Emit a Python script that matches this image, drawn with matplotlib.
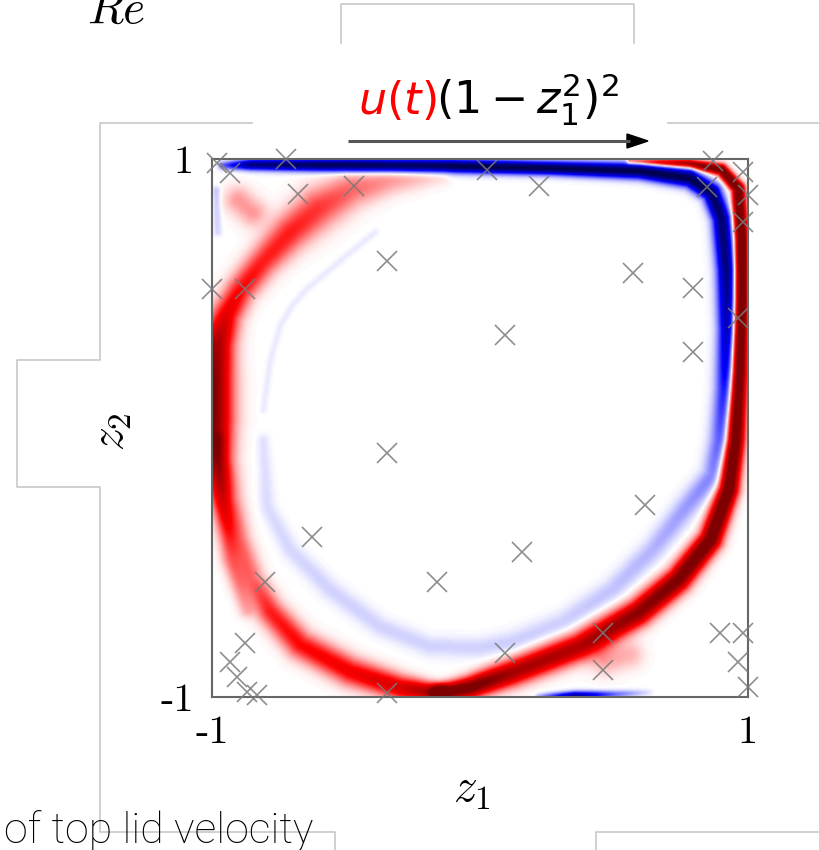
import numpy as np
import matplotlib.pyplot as plt

plt.rcParams['mathtext.fontset'] = 'cm'

# vorticity bands: rows of (z1, z2, value, half-width)
lid_band = np.array([
    [-0.963, 0.978, -0.30, 0.015],
    [-0.858, 0.981, -0.85, 0.020],
    [-0.485, 0.979, -1.00, 0.024],
    [-0.112, 0.976, -1.00, 0.024],
    [0.261, 0.968, -1.00, 0.024],
    [0.597, 0.957, -1.00, 0.028],
    [0.784, 0.930, -1.00, 0.032],
    [0.866, 0.877, -0.95, 0.034],
    [0.903, 0.781, -0.90, 0.034],
    [0.922, 0.587, -0.85, 0.036],
    [0.926, 0.364, -0.70, 0.036],
    [0.918, 0.141, -0.50, 0.038],
    [0.900, -0.045, -0.35, 0.040],
    [0.870, -0.175, -0.25, 0.040],
    [0.772, -0.294, -0.20, 0.041],
    [0.646, -0.454, -0.15, 0.041],
    [0.496, -0.602, -0.12, 0.041],
    [0.310, -0.725, -0.10, 0.041],
    [0.123, -0.799, -0.10, 0.041],
    [0.000, -0.818, -0.09, 0.037],
    [-0.187, -0.814, -0.09, 0.037],
    [-0.373, -0.740, -0.09, 0.037],
    [-0.560, -0.602, -0.09, 0.037],
    [-0.709, -0.454, -0.08, 0.034],
    [-0.795, -0.294, -0.07, 0.030],
    [-0.810, -0.045, -0.06, 0.022],
])
faint_trail = np.array([
    [-0.810, 0.067, -0.04, 0.013],
    [-0.784, 0.253, -0.04, 0.013],
    [-0.746, 0.383, -0.04, 0.013],
    [-0.701, 0.457, -0.04, 0.013],
    [-0.653, 0.513, -0.04, 0.013],
    [-0.578, 0.576, -0.04, 0.013],
    [-0.485, 0.654, -0.04, 0.013],
    [-0.392, 0.729, -0.04, 0.013],
])
wall_band = np.array([
    [0.560, 0.993, 0.40, 0.011],
    [0.784, 0.985, 0.90, 0.015],
    [0.903, 0.962, 1.20, 0.020],
    [0.966, 0.892, 1.30, 0.022],
    [0.978, 0.699, 1.30, 0.024],
    [0.978, 0.476, 1.30, 0.026],
    [0.970, 0.216, 1.30, 0.028],
    [0.955, -0.045, 1.25, 0.032],
    [0.930, -0.230, 1.20, 0.035],
    [0.862, -0.416, 1.15, 0.040],
    [0.742, -0.565, 1.05, 0.044],
    [0.593, -0.688, 0.95, 0.047],
    [0.373, -0.814, 0.80, 0.050],
    [0.123, -0.911, 0.85, 0.047],
    [-0.037, -0.967, 1.10, 0.038],
    [-0.149, -0.989, 1.15, 0.030],
])
left_band = np.array([
    [-0.149, -0.989, 0.90, 0.030],
    [-0.299, -0.967, 0.65, 0.045],
    [-0.485, -0.907, 0.55, 0.052],
    [-0.672, -0.807, 0.50, 0.052],
    [-0.784, -0.684, 0.45, 0.049],
    [-0.851, -0.565, 0.30, 0.045],
    [-0.903, -0.416, 0.30, 0.045],
    [-0.948, -0.268, 0.40, 0.052],
    [-0.985, -0.119, 0.70, 0.060],
    [-1.000, 0.030, 1.00, 0.070],
    [-1.000, 0.178, 1.00, 0.070],
    [-0.985, 0.309, 0.85, 0.062],
    [-0.948, 0.420, 0.60, 0.054],
    [-0.896, 0.513, 0.50, 0.052],
    [-0.813, 0.617, 0.45, 0.056],
    [-0.709, 0.729, 0.45, 0.067],
    [-0.604, 0.818, 0.40, 0.075],
    [-0.485, 0.885, 0.30, 0.067],
    [-0.336, 0.922, 0.20, 0.052],
    [-0.149, 0.941, 0.08, 0.037],
])
left_streak = np.array([
    [-0.985, -0.045, 0.25, 0.030],
    [-0.970, -0.268, 0.30, 0.034],
    [-0.933, -0.491, 0.25, 0.034],
    [-0.873, -0.677, 0.15, 0.030],
])
corner_blob = np.array([
    [-0.903, 0.848, 0.20, 0.052],
    [-0.851, 0.803, 0.20, 0.052],
])
bottom_blob = np.array([
    [0.470, -0.862, 0.18, 0.056],
    [0.560, -0.845, 0.15, 0.050],
])
bottom_streak = np.array([
    [0.220, -1.000, -0.15, 0.012],
    [0.354, -0.996, -0.75, 0.015],
    [0.504, -0.992, -0.30, 0.014],
    [0.634, -0.985, -0.05, 0.012],
])
wall_streak = np.array([
    [-0.985, 0.885, -0.12, 0.015],
    [-0.981, 0.729, -0.08, 0.015],
])

# sensor locations
sensor_z1 = [-0.980, -0.933, -0.724, -0.679, -0.470, -0.347, -1.000, -0.877,
             0.026, 0.220, 0.869, 0.981, 0.847, 1.000, 0.981, 0.571, 0.795,
             0.963, 0.093, 0.795, -0.347, 0.616, 0.157, -0.627, -0.802,
             -0.160, 0.459, 0.093, 0.459, 0.896, 0.981, 0.963, 1.000,
             -0.877, -0.933, -0.907, -0.869, -0.832, -0.347]
sensor_z2 = [0.985, 0.948, 1.000, 0.870, 0.900, 0.621, 0.517, 0.517,
             0.959, 0.900, 0.993, 0.952, 0.896, 0.866, 0.766, 0.576, 0.520,
             0.409, 0.346, 0.283, -0.093, -0.286, -0.461, -0.405, -0.572,
             -0.572, -0.762, -0.836, -0.900, -0.762, -0.762, -0.870, -0.963,
             -0.799, -0.870, -0.926, -0.981, -0.993, -0.985]


def band_field(band, X, Y):
    best = np.zeros_like(X)
    for (x0, y0, v0, w0), (x1, y1, v1, w1) in zip(band[:-1], band[1:]):
        dx, dy = x1 - x0, y1 - y0
        t = np.clip(((X - x0) * dx + (Y - y0) * dy) / (dx * dx + dy * dy), 0, 1)
        d2 = (X - x0 - t * dx) ** 2 + (Y - y0 - t * dy) ** 2
        w = w0 + t * (w1 - w0)
        g = (v0 + t * (v1 - v0)) * np.exp(-d2 / w ** 2)
        best = np.where(np.abs(g) > np.abs(best), g, best)
    return best


z = np.linspace(-1, 1, 500)
X, Y = np.meshgrid(z, z)
bands = [lid_band, faint_trail, wall_band, left_band, left_streak,
         corner_blob, bottom_blob, bottom_streak, wall_streak]
field = sum(band_field(b, X, Y) for b in bands)

W, H = 819, 850
fig = plt.figure(figsize=(W / 100, H / 100), dpi=100)

# pixel-space layer for the surrounding annotations
ov = fig.add_axes([0, 0, 1, 1])
ov.set_xlim(0, W)
ov.set_ylim(H, 0)
ov.axis('off')

grey = '#c4c4c4'
ov.plot([341, 341, 634, 634], [43, 4, 4, 43], color=grey, lw=1.1)
ov.plot([252, 100, 100, 17, 17, 100, 100, 335, 335],
        [123, 123, 360, 360, 487, 487, 832, 832, 850], color=grey, lw=1.1)
ov.plot([668, 819], [123, 123], color=grey, lw=1.1)
ov.plot([596, 596, 819], [850, 832, 832], color=grey, lw=1.1)

ov.text(87, 23, r'$Re$', fontsize=34, ha='left', va='baseline')

red = ov.text(358, 114, r'$u(t)$', color='red', fontsize=32,
              math_fontfamily='dejavusans', ha='left', va='baseline')
fig.canvas.draw()
bb = red.get_window_extent(renderer=fig.canvas.get_renderer())
x_next = ov.transData.inverted().transform((bb.x1, bb.y0))[0]
ov.text(x_next, 114, r'$(1-z_1^2)^2$', color='black', fontsize=32,
        math_fontfamily='dejavusans', ha='left', va='baseline')

# lid arrow
ov.plot([348, 630], [141, 141], color='#555555', lw=2.2, solid_capstyle='butt')
ov.fill([627, 648, 627], [134, 141, 148], color='black')

ov.text(472, 790, r'$z_1$', fontsize=34, ha='center', va='center')
ov.text(112, 432, r'$z_2$', fontsize=34, rotation=90, ha='center', va='center')
ov.text(4, 843, 'of top lid velocity', fontsize=31, family='Roboto',
        weight='light', ha='left', va='baseline')

# cavity
ax = fig.add_axes([212 / W, 1 - 697 / H, 536 / W, 538 / H])
ax.imshow(field, extent=(-1, 1, -1, 1), origin='lower',
          cmap=plt.get_cmap('seismic', 255), vmin=-1, vmax=1,
          interpolation='bilinear', aspect='auto')
ax.plot(sensor_z1, sensor_z2, 'x', ms=15, mew=1.2, color='#7a7a7a',
        alpha=0.85, clip_on=False, zorder=5)
ax.set_xlim(-1, 1)
ax.set_ylim(-1, 1)
ax.set_xticks([-1, 1])
ax.set_yticks([-1, 1])
ax.set_xticklabels(['-1', '1'], fontfamily='cmr10', fontsize=29)
ax.set_yticklabels(['-1', '1'], fontfamily='cmr10', fontsize=29)
ax.tick_params(length=0, pad=13)
for s in ax.spines.values():
    s.set_color('#666666')
    s.set_linewidth(1.5)

fig.savefig('out.png', dpi=100)
